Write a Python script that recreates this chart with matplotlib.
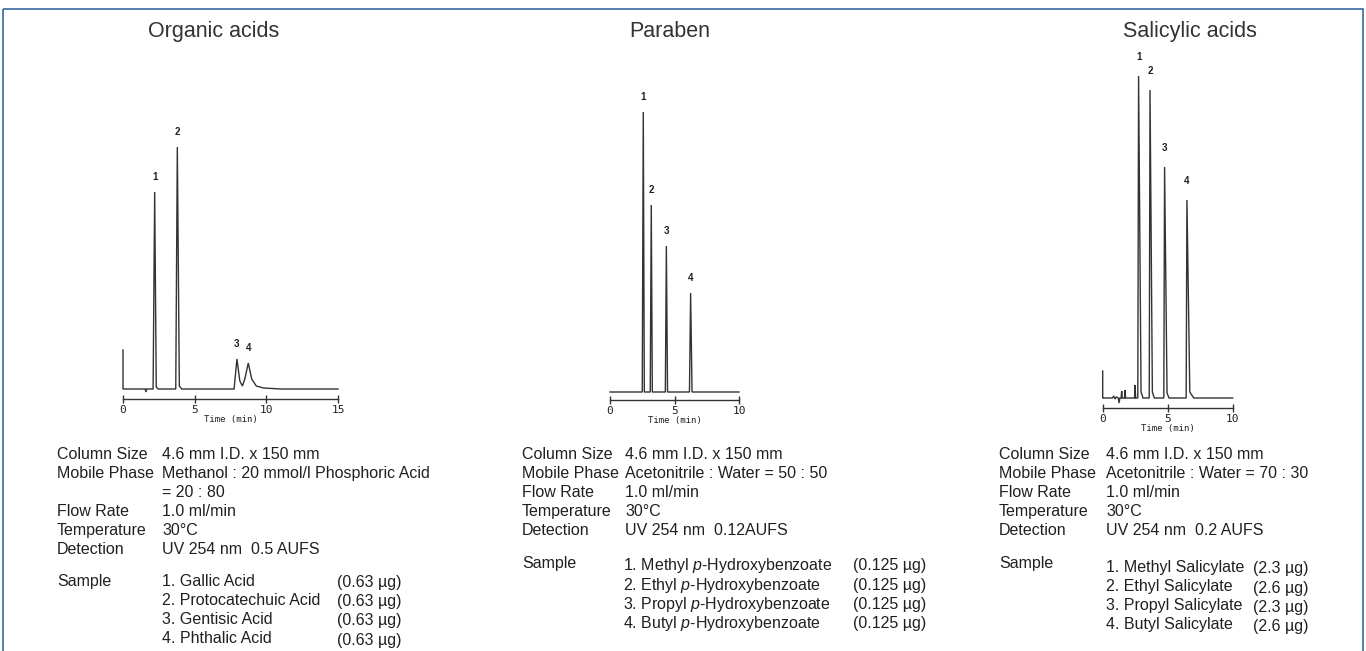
"""Three HPLC chromatograms with their run conditions, redrawn from a catalogue page."""

import matplotlib
matplotlib.use("Agg")
import matplotlib.pyplot as plt
from matplotlib.patches import Rectangle

plt.rcParams["font.family"] = ["Liberation Sans", "DejaVu Sans"]
plt.rcParams["mathtext.fontset"] = "custom"
plt.rcParams["mathtext.rm"] = "Liberation Sans"
plt.rcParams["mathtext.it"] = "Liberation Sans:italic"

W, H = 1366, 651
TEXT = "#231f20"
TRACE = "#333333"
MONO = "DejaVu Sans Mono"
FS = 11.5

# Organic acids trace (time in min, signal in arbitrary units)
organic_t = [0, 0, 0.05, 1.55, 1.6, 1.65, 2.1, 2.21, 2.32, 2.45, 3.68, 3.79, 3.93, 4.1,
             7.75, 7.95, 8.15, 8.33, 8.5, 8.74, 8.98, 9.3, 9.8, 11.0, 15.0]
organic_y = [39, 0, 0, 0, -3, 0, 0, 197, 2, 0, 0, 242, 3, 0,
             0, 30, 8, 3, 10, 26, 10, 3, 1, 0, 0]
organic_peak_t = [2.21, 3.79, 7.95, 8.74]
organic_peak_h = [197, 242, 30, 26]
organic_ticks = [0, 5, 10, 15]

# Paraben trace
paraben_t = [0, 2.5, 2.58, 2.66, 3.12, 3.2, 3.28, 4.29, 4.37, 4.46, 6.16, 6.25, 6.36, 10]
paraben_y = [0, 0, 280, 0, 0, 187, 0, 0, 146, 0, 0, 99, 0, 0]
paraben_peak_t = [2.58, 3.2, 4.37, 6.25]
paraben_peak_h = [280, 187, 146, 99]
paraben_ticks = [0, 5, 10]

# Salicylic acids trace
salicylic_t = [0, 0, 0.05, 0.75, 0.85, 0.95, 1.05, 1.2, 1.26, 1.32, 1.42, 1.46, 1.5,
               1.68, 1.72, 1.76, 2.45, 2.49, 2.53, 2.7, 2.76, 2.95, 3.1, 3.58, 3.64,
               3.82, 3.97, 4.7, 4.76, 4.95, 5.1, 6.42, 6.48, 6.7, 7.0, 10]
salicylic_y = [27, 0, 0, 0, 2, -1, 1, 0, -5, 0, 0, 7, 0,
               0, 8, 0, 0, 13, 0, 0, 322, 6, 0, 0, 308,
               6, 0, 0, 231, 5, 0, 0, 198, 6, 0, 0]
salicylic_peak_t = [2.76, 3.64, 4.76, 6.48]
salicylic_peak_h = [322, 308, 231, 198]
salicylic_ticks = [0, 5, 10]

titles = ["Organic acids", "Paraben", "Salicylic acids"]

cond_labels = ["Column Size", "Mobile Phase", "", "Flow Rate", "Temperature", "Detection"]
organic_cond = ["4.6 mm I.D. x 150 mm", "Methanol : 20 mmol/l Phosphoric Acid",
                "= 20 : 80", "1.0 ml/min", "30°C", "UV 254 nm  0.5 AUFS"]
paraben_cond = ["4.6 mm I.D. x 150 mm", "Acetonitrile : Water = 50 : 50",
                None, "1.0 ml/min", "30°C", "UV 254 nm  0.12AUFS"]
salicylic_cond = ["4.6 mm I.D. x 150 mm", "Acetonitrile : Water = 70 : 30",
                  None, "1.0 ml/min", "30°C", "UV 254 nm  0.2 AUFS"]

organic_samples = ["1. Gallic Acid", "2. Protocatechuic Acid", "3. Gentisic Acid",
                   "4. Phthalic Acid"]
organic_amounts = ["(0.63 µg)"] * 4
paraben_samples = [r"1. Methyl $\mathit{p}$-Hydroxybenzoate",
                   r"2. Ethyl $\mathit{p}$-Hydroxybenzoate",
                   r"3. Propyl $\mathit{p}$-Hydroxybenzoate",
                   r"4. Butyl $\mathit{p}$-Hydroxybenzoate"]
paraben_amounts = ["(0.125 µg)"] * 4
salicylic_samples = ["1. Methyl Salicylate", "2. Ethyl Salicylate",
                     "3. Propyl Salicylate", "4. Butyl Salicylate"]
salicylic_amounts = ["(2.3 µg)", "(2.6 µg)", "(2.3 µg)", "(2.6 µg)"]


def px_axes(fig, left, top, right, bottom):
    """Add axes placed by pixel box (y measured from top of the image)."""
    return fig.add_axes([left / W, 1 - bottom / H, (right - left) / W, (bottom - top) / H])


def chromatogram(fig, box, ylim, t, y, peak_t, peak_h, ticks, label_off, label_y):
    ax = px_axes(fig, *box)
    ax.plot(t, y, color=TRACE, lw=1.0, solid_joinstyle="miter", clip_on=False)
    for i, (pt, ph) in enumerate(zip(peak_t, peak_h)):
        ax.annotate(str(i + 1), (pt, ph), xytext=(0, label_off), textcoords="offset points",
                    ha="center", va="center", fontsize=7, fontweight="bold", color=TEXT)
    ax.set_xlim(ticks[0], ticks[-1])
    ax.set_ylim(*ylim)
    for side in ("top", "left", "right"):
        ax.spines[side].set_visible(False)
    ax.spines["bottom"].set_color(TRACE)
    ax.spines["bottom"].set_linewidth(1.0)
    ax.set_yticks([])
    ax.set_xticks(ticks)
    ax.tick_params(axis="x", direction="inout", length=6, width=1.0, color=TRACE,
                   labelsize=8, pad=1.5, labelcolor=TEXT)
    for lab in ax.get_xticklabels():
        lab.set_family(MONO)
    ax.patch.set_alpha(0)
    ax.set_xlabel("Time (min)", fontsize=6.5, family=MONO, color=TEXT, labelpad=label_y)
    return ax


def put(ax, x, y, s):
    # y is the visual middle of the row; draw on a common whole-pixel baseline
    ax.text(x, y + 6, s, fontsize=FS, color=TEXT, va="baseline")


def conditions(ax, x_lab, x_val, values, y0=453, step=19):
    y = y0
    for lab, val in zip(cond_labels, values):
        if val is None:
            continue
        put(ax, x_lab, y, lab)
        put(ax, x_val, y, val)
        y += step


def samples(ax, x_lab, x_val, x_amt, y_lab, y_rows, y_amts, names, amounts):
    put(ax, x_lab, y_lab, "Sample")
    for yy, ya, name, amt in zip(y_rows, y_amts, names, amounts):
        put(ax, x_val, yy, name)
        put(ax, x_amt, ya, amt)


fig = plt.figure(figsize=(W / 100, H / 100), dpi=100)

chromatogram(fig, (123, 147, 338, 399), (-10, 242), organic_t, organic_y,
             organic_peak_t, organic_peak_h, organic_ticks, 11, 0)
chromatogram(fig, (610, 112, 739, 400), (-8, 280), paraben_t, paraben_y,
             paraben_peak_t, paraben_peak_h, paraben_ticks, 10.5, 0)
chromatogram(fig, (1102.7, 76, 1232.7, 408), (-10, 322), salicylic_t, salicylic_y,
             salicylic_peak_t, salicylic_peak_h, salicylic_ticks, 14, 0)

# overlay in pixel units for frame and text
top = fig.add_axes([0, 0, 1, 1], zorder=-1)
top.set_xlim(0, W)
top.set_ylim(H, 0)
top.axis("off")
top.add_patch(Rectangle((3, 9), 1360, 700, fill=False, ec="#3b6aa0", lw=1.2))

for x, title in zip([214, 670, 1190], titles):
    top.text(x, 37, title, fontsize=15.5, color="#333333", ha="center", va="baseline")

conditions(top, 57, 162, organic_cond)
samples(top, 57, 162, 337, 580, [580, 599, 618, 637], [581, 600, 619, 639],
        organic_samples, organic_amounts)

conditions(top, 522, 625, paraben_cond)
samples(top, 522, 623, 853, 562, [564, 584, 603, 622], [564, 584, 603, 622],
        paraben_samples, paraben_amounts)

conditions(top, 999, 1106, salicylic_cond)
samples(top, 999, 1106, 1253, 562, [566, 585, 604, 623], [567, 587, 606, 625],
        salicylic_samples, salicylic_amounts)

fig.savefig("out.png", dpi=100)
